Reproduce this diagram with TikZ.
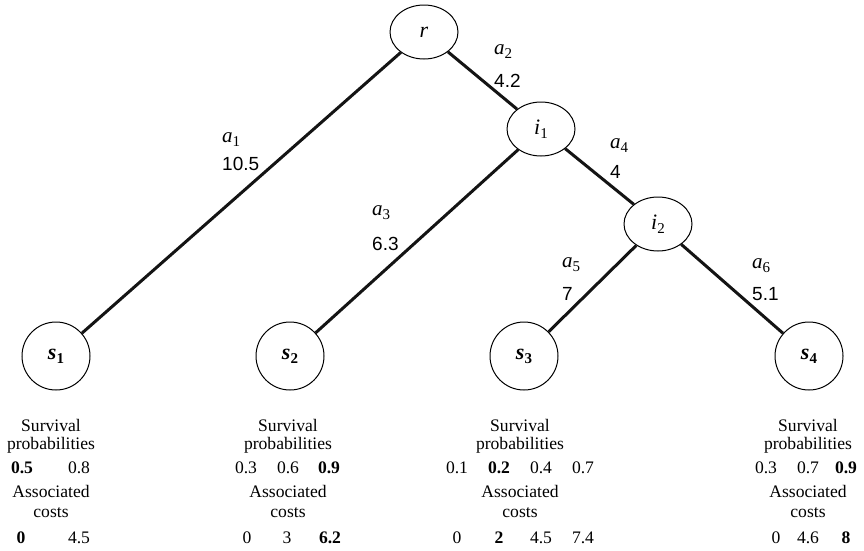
\documentclass[tikz,border=0pt]{standalone}
\usepackage{fontspec}
\setmainfont{Liberation Serif}
\newfontfamily\lsans{Liberation Sans}
\usetikzlibrary{shapes.geometric}
\newcommand{\myidx}[1]{\raisebox{-4pt}{\fontsize{15}{15}\selectfont #1}}
\newcommand{\elabel}[1]{\textit{a}\myidx{#1}}
\begin{document}
\begin{tikzpicture}[x=1pt,y=-1pt,
  innernode/.style={draw, ellipse, line width=1pt, minimum width=68pt, minimum height=54pt, inner sep=0pt, font=\fontsize{22}{22}\selectfont},
  leafnode/.style={draw, circle, line width=1pt, minimum size=68pt, inner sep=0pt, font=\fontsize{22}{22}\selectfont},
  edgeline/.style={line width=3pt, color=black!92},
  elab/.style={anchor=base west, inner sep=0pt, font=\fontsize{21}{21}\selectfont},
  enum/.style={anchor=base west, inner sep=0pt, font=\lsans\fontsize{19}{19}\selectfont},
  txt/.style={anchor=base, inner sep=0pt, font=\fontsize{17.6}{18}\selectfont},
  ]
\useasboundingbox (0,0) rectangle (864,550);
% inner nodes
\node[innernode] (r) at (424,32) {\textit{r}};
\node[innernode] (i1) at (541,129) {\textit{i}\myidx{1}};
\node[innernode] (i2) at (658,224) {\textit{i}\myidx{2}};
% leaves
\node[leafnode] (s1) at (56,356) {\textbf{\textit{s}}\myidx{\bfseries 1}};
\node[leafnode] (s2) at (290,356) {\textbf{\textit{s}}\myidx{\bfseries 2}};
\node[leafnode] (s3) at (524,356) {\textbf{\textit{s}}\myidx{\bfseries 3}};
\node[leafnode] (s4) at (809,356) {\textbf{\textit{s}}\myidx{\bfseries 4}};
% edges
\draw[edgeline] (r) -- (s1);
\draw[edgeline] (r) -- (i1);
\draw[edgeline] (i1) -- (s2);
\draw[edgeline] (i1) -- (i2);
\draw[edgeline] (i2) -- (s3);
\draw[edgeline] (i2) -- (s4);
% edge labels
\node[elab] (la1) at (222,142) {\elabel{1}};
\node[enum] (na1) at (222,170) {10.5};
\node[elab] (la2) at (494,54) {\elabel{2}};
\node[enum] (na2) at (494,87) {4.2};
\node[elab] (la3) at (372,215) {\elabel{3}};
\node[enum] (na3) at (372,250) {6.3};
\node[elab] (la4) at (610,148) {\elabel{4}};
\node[enum] (na4) at (610,178) {4};
\node[elab] (la5) at (562,267) {\elabel{5}};
\node[enum] (na5) at (562,300) {7};
\node[elab] (la6) at (752,268) {\elabel{6}};
\node[enum] (na6) at (752,300) {5.1};
% s1 column
\node[txt] (t1a) at (51,431) {Survival};
\node[txt] (t1b) at (51,449) {probabilities};
\node[txt] (p11) at (22,473) {\textbf{0.5}};
\node[txt] (p12) at (79,473) {0.8};
\node[txt] (t1c) at (51,497) {Associated};
\node[txt] (t1d) at (51,517) {costs};
\node[txt] (c11) at (21,543) {\textbf{0}};
\node[txt] (c12) at (79,543) {4.5};
% s2 column
\node[txt] (t2a) at (288,431) {Survival};
\node[txt] (t2b) at (288,449) {probabilities};
\node[txt] (p21) at (246,473) {0.3};
\node[txt] (p22) at (288,473) {0.6};
\node[txt] (p23) at (329,473) {\textbf{0.9}};
\node[txt] (t2c) at (288,497) {Associated};
\node[txt] (t2d) at (288,517) {costs};
\node[txt] (c21) at (247,543) {0};
\node[txt] (c22) at (287,543) {3};
\node[txt] (c23) at (330,543) {\textbf{6.2}};
% s3 column
\node[txt] (t3a) at (520,431) {Survival};
\node[txt] (t3b) at (520,449) {probabilities};
\node[txt] (p31) at (457,473) {0.1};
\node[txt] (p32) at (499,473) {\textbf{0.2}};
\node[txt] (p33) at (541,473) {0.4};
\node[txt] (p34) at (583,473) {0.7};
\node[txt] (t3c) at (520,497) {Associated};
\node[txt] (t3d) at (520,517) {costs};
\node[txt] (c31) at (457,543) {0};
\node[txt] (c32) at (499,543) {\textbf{2}};
\node[txt] (c33) at (541,543) {4.5};
\node[txt] (c34) at (583,543) {7.4};
% s4 column
\node[txt] (t4a) at (808,431) {Survival};
\node[txt] (t4b) at (808,449) {probabilities};
\node[txt] (p41) at (766,473) {0.3};
\node[txt] (p42) at (808,473) {0.7};
\node[txt] (p43) at (846,473) {\textbf{0.9}};
\node[txt] (t4c) at (808,497) {Associated};
\node[txt] (t4d) at (808,517) {costs};
\node[txt] (c41) at (776,543) {0};
\node[txt] (c42) at (808,543) {4.6};
\node[txt] (c43) at (846,543) {\textbf{8}};
\end{tikzpicture}
\end{document}
